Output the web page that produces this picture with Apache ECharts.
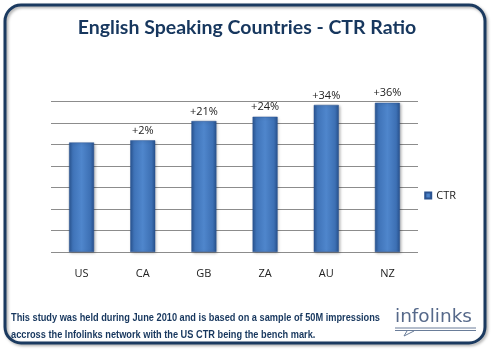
<!DOCTYPE html>
<html><head><meta charset="utf-8">
<script src="https://cdn.jsdelivr.net/npm/echarts@6/dist/echarts.min.js"></script>
<style>html,body{margin:0;padding:0;background:#fff}#c{width:494px;height:353px}</style>
</head><body><div id="c"></div>
<script>
var categories = ['US','CA','GB','ZA','AU','NZ'];
var ctrValues = [5.1, 5.2, 6.1, 6.3, 6.85, 6.95];
var barLabels = ['', '+2%', '+21%', '+24%', '+34%', '+36%'];
var seriesName = 'CTR';
var titleText = 'English Speaking Countries - CTR Ratio';
var footLines = ['This study was held during June 2010 and is based on a sample of 50M impressions',
                 'accross the Infolinks network with the US CTR being the bench mark.'];

function fitScale(text, font, target){
  var cv = document.createElement('canvas').getContext('2d');
  cv.font = font; return target / cv.measureText(text).width;
}
var footFont = 'bold 11px "Liberation Sans"';
var sx = fitScale(footLines[0], footFont, 369);
var sx2 = sx;
var logoFont = '18px "DejaVu Sans"';
var lsx = fitScale('infolinks', logoFont, 77);

var chart = echarts.init(document.getElementById('c'), null, {renderer:'canvas'});
var barGrad = new echarts.graphic.LinearGradient(0,0,1,0,[
  {offset:0,color:'#2a5694'},{offset:0.15,color:'#3f73b8'},
  {offset:0.5,color:'#4f86cc'},{offset:0.85,color:'#3d70b4'},{offset:1,color:'#28528e'}]);
chart.setOption({
  animation:false,
  title:{text:titleText,left:'center',top:13,
    textStyle:{fontFamily:'Lato',fontWeight:'bold',fontSize:19.5,color:'#17375e'}},
  legend:{data:[seriesName],right:33,top:185,orient:'vertical',itemWidth:6,itemHeight:6,itemGap:4,
    icon:'rect',textStyle:{fontFamily:'Open Sans',fontSize:11,color:'#222'}},
  grid:{left:51,right:76,top:101.7,height:150.3,containLabel:false},
  xAxis:{type:'category',data:categories,axisLine:{show:false},axisTick:{show:false},
    axisLabel:{margin:16,fontFamily:'Open Sans',fontSize:11,color:'#222'}},
  yAxis:{type:'value',min:0,max:7,interval:1,axisLabel:{show:false},axisLine:{show:false},
    axisTick:{show:false},splitLine:{lineStyle:{color:'#8c8c8c',width:1}}},
  series:[{name:seriesName,type:'bar',barWidth:25,data:ctrValues,
    itemStyle:{color:barGrad,borderColor:'#2a5290',borderWidth:0.5,shadowColor:'rgba(0,0,0,0.3)',shadowBlur:3,shadowOffsetX:1,shadowOffsetY:1},
    label:{show:true,position:'top',distance:4,fontFamily:'Open Sans',fontSize:11,color:'#222',
      formatter:function(p){return barLabels[p.dataIndex];}}}],
  graphic:[
    {type:'rect',shape:{x:5,y:5,width:480,height:338,r:16},z:-1,
      style:{fill:'none',stroke:'#1b3a60',lineWidth:3,shadowColor:'rgba(0,0,0,0.35)',shadowBlur:3,shadowOffsetX:1.5,shadowOffsetY:1.5}},
    {type:'text',x:11,y:312,scaleX:sx,style:{text:footLines[0],font:footFont,fill:'#17375e'}},
    {type:'text',x:11,y:329.5,scaleX:sx2,style:{text:footLines[1],font:footFont,fill:'#17375e'}},
    {type:'text',x:395,y:308,scaleX:lsx,style:{text:'infolinks',font:logoFont,fill:'#56698a'}},
    {type:'line',shape:{x1:395,y1:328,x2:476,y2:328},style:{stroke:'#6a7d99',lineWidth:1}},
    {type:'line',shape:{x1:395,y1:330.5,x2:476,y2:330.5},style:{stroke:'#6a7d99',lineWidth:1}},
    {type:'polyline',shape:{points:[[407,331],[404,336],[414,331]]},style:{stroke:'#6a7d99',fill:'none',lineWidth:1}}
  ]
});
</script></body></html>
